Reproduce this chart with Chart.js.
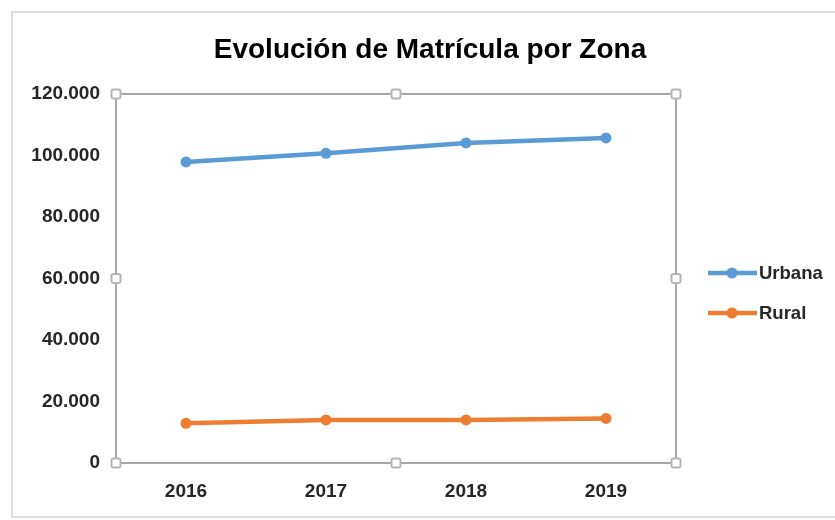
<!DOCTYPE html>
<html>
<head>
<meta charset="utf-8">
<script src="https://cdn.jsdelivr.net/npm/chart.js@4/dist/chart.umd.min.js"></script>
<style>
html, body { margin: 0; padding: 0; background: #fff; }
#contenedor { width: 835px; height: 520px; }
</style>
</head>
<body>
<div id="contenedor"><canvas id="grafico"></canvas></div>
<script>
const titulo = 'Evolución de Matrícula por Zona';
const anios = ['2016', '2017', '2018', '2019'];
const urbana = [97900, 100700, 104100, 105700];
const rural = [12900, 14000, 14000, 14500];
const ticksY = [0, 20000, 40000, 60000, 80000, 100000, 120000];

const fuente = "'Liberation Sans', Arial, sans-serif";
const colorTexto = '#262626';

function miles(v) {
    return String(v).replace(/\B(?=(\d{3})+(?!\d))/g, '.');
}

// marco, asas de seleccion, titulo y leyenda al estilo Excel
const decoracion = {
    id: 'decoracion',
    beforeDraw(chart) {
        const ctx = chart.ctx;
        ctx.save();
        ctx.strokeStyle = '#d4d4d4';
        ctx.lineWidth = 1.5;
        ctx.beginPath();
        ctx.moveTo(835, 12);
        ctx.lineTo(12, 12);
        ctx.lineTo(12, 517);
        ctx.lineTo(835, 517);
        ctx.stroke();
        ctx.restore();
    },
    afterDraw(chart) {
        const ctx = chart.ctx;
        const a = chart.chartArea;
        ctx.save();

        ctx.strokeStyle = '#8a8a8a';
        ctx.lineWidth = 1.5;
        ctx.strokeRect(a.left, a.top, a.right - a.left, a.bottom - a.top);

        const mx = (a.left + a.right) / 2;
        const my = (a.top + a.bottom) / 2;
        const asas = [
            [a.left, a.top], [mx, a.top], [a.right, a.top],
            [a.left, my], [a.right, my],
            [a.left, a.bottom], [mx, a.bottom], [a.right, a.bottom]
        ];
        ctx.fillStyle = '#fff';
        ctx.strokeStyle = '#b5b5b5';
        ctx.lineWidth = 2;
        asas.forEach(([x, y]) => {
            ctx.beginPath();
            ctx.roundRect(x - 4.5, y - 4.5, 9, 9, 2);
            ctx.fill();
            ctx.stroke();
        });

        ctx.fillStyle = '#000';
        ctx.font = 'bold 28px ' + fuente;
        ctx.textAlign = 'center';
        ctx.textBaseline = 'alphabetic';
        ctx.fillText(titulo, 430, 58);

        ctx.font = 'bold 18.5px ' + fuente;
        ctx.textAlign = 'left';
        ctx.textBaseline = 'middle';
        chart.data.datasets.forEach((ds, i) => {
            const y = 273 + i * 40;
            ctx.strokeStyle = ds.borderColor;
            ctx.lineWidth = 4.5;
            ctx.beginPath();
            ctx.moveTo(708, y);
            ctx.lineTo(757, y);
            ctx.stroke();
            ctx.fillStyle = ds.borderColor;
            ctx.beginPath();
            ctx.arc(732, y, 5.5, 0, Math.PI * 2);
            ctx.fill();
            ctx.fillStyle = colorTexto;
            ctx.fillText(ds.label, 759, y + 1);
        });
        ctx.restore();
    }
};

const ctx = document.getElementById('grafico').getContext('2d');

new Chart(ctx, {
    type: 'line',
    data: {
        labels: anios,
        datasets: [{
                label: 'Urbana',
                data: urbana,
                borderColor: '#5b9bd5',
                backgroundColor: '#5b9bd5',
                pointBackgroundColor: '#5b9bd5',
                borderWidth: 4.5,
                pointRadius: 5.5,
                pointBorderWidth: 0
            },
            {
                label: 'Rural',
                data: rural,
                borderColor: '#ed7d31',
                backgroundColor: '#ed7d31',
                pointBackgroundColor: '#ed7d31',
                borderWidth: 4.5,
                pointRadius: 5.5,
                pointBorderWidth: 0
            }
        ]
    },
    options: {
        responsive: true,
        maintainAspectRatio: false,
        animation: false,
        devicePixelRatio: 1,
        layout: { padding: { top: 94, right: 159, bottom: 0, left: 0 } },
        plugins: {
            legend: { display: false },
            title: { display: false },
            tooltip: { enabled: false }
        },
        scales: {
            x: {
                offset: true,
                grid: { display: false, drawTicks: false },
                border: { display: false },
                ticks: {
                    color: colorTexto,
                    font: { family: fuente, size: 19, weight: 'bold' },
                    padding: 17,
                    maxRotation: 0
                },
                afterFit(s) { s.height = 57; }
            },
            y: {
                min: 0,
                max: 120000,
                grid: { display: false, drawTicks: false },
                border: { display: false },
                afterBuildTicks(s) { s.ticks = ticksY.map(v => ({ value: v })); },
                ticks: {
                    color: colorTexto,
                    font: { family: fuente, size: 19, weight: 'bold' },
                    padding: 16,
                    callback: v => miles(v)
                },
                afterFit(s) { s.width = 116; }
            }
        }
    },
    plugins: [decoracion]
});
</script>
</body>
</html>
